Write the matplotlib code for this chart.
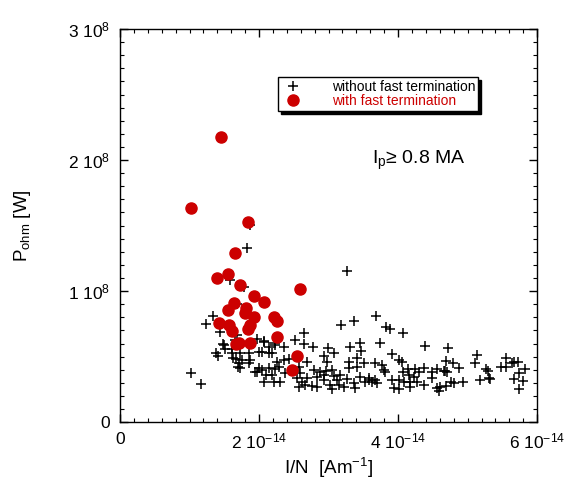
import matplotlib
matplotlib.use("Agg")
import matplotlib.pyplot as plt
import numpy as np
from matplotlib.ticker import FixedLocator, MultipleLocator, FixedFormatter

plt.rcParams['font.family'] = ['Liberation Sans', 'DejaVu Sans']
plt.rcParams['mathtext.fontset'] = 'custom'
plt.rcParams['mathtext.rm'] = 'Liberation Sans'
plt.rcParams['mathtext.it'] = 'Liberation Sans:italic'

# data: I/N in units of 1e-14 A/m, P_ohm in units of 1e8 W
fast_x = [1.460, 1.024, 1.844, 1.661, 1.556, 1.392, 1.723, 2.582, 1.924, 2.074,
          1.642, 1.556, 1.815, 1.791, 1.924, 2.212, 2.261, 1.421, 1.565, 1.867,
          1.604, 1.844, 2.261, 1.709, 1.877, 1.671, 2.543, 2.477]
fast_y = [2.178, 1.631, 1.525, 1.288, 1.130, 1.097, 1.048, 1.013, 0.962, 0.916,
          0.908, 0.853, 0.868, 0.834, 0.802, 0.802, 0.773, 0.758, 0.740, 0.740,
          0.695, 0.708, 0.651, 0.603, 0.605, 0.595, 0.506, 0.397]

slow_x = [1.877, 1.829, 1.589, 1.780, 3.258, 1.340, 1.244, 1.445, 1.478, 1.507,
          1.388, 1.407, 1.604, 1.614, 1.628, 1.675, 1.694, 1.028, 1.158, 1.686,
          1.686, 1.973, 2.068, 2.140, 2.236, 2.366, 2.524, 2.643, 1.719, 1.852,
          1.877, 1.852, 2.006, 2.045, 2.140, 2.189, 1.709, 1.733, 2.261, 2.356,
          2.428, 2.284, 2.236, 2.140, 2.045, 1.973, 2.093, 2.189, 2.068, 2.212,
          2.308, 2.380, 2.571, 2.596, 2.549, 2.571, 2.620, 3.186, 3.363, 2.653,
          2.779, 2.989, 3.075, 2.931, 3.315, 3.449, 3.473, 2.692, 2.980, 3.291,
          3.411, 3.506, 2.797, 2.884, 2.956, 3.052, 3.291, 3.411, 2.692, 2.836,
          2.931, 3.075, 3.171, 3.268, 3.459, 3.578, 2.668, 2.764, 2.836, 3.027,
          3.052, 3.147, 3.219, 3.363, 3.387, 3.531, 2.931, 3.124, 3.685, 3.833,
          3.890, 4.067, 3.747, 4.394, 3.915, 4.010, 4.059, 3.675, 3.771, 3.794,
          3.818, 4.067, 4.145, 4.250, 4.154, 4.225, 4.297, 4.369, 4.490, 4.562,
          4.657, 4.490, 3.578, 3.675, 3.699, 3.627, 3.915, 4.010, 4.082, 4.178,
          4.274, 3.938, 4.010, 4.178, 4.369, 4.562, 4.585, 4.714, 4.696, 4.792,
          4.873, 4.681, 4.706, 4.609, 4.696, 4.763, 4.801, 4.936, 5.137, 5.113,
          5.271, 5.296, 5.185, 5.304, 5.329, 5.482, 5.559, 5.554, 5.641, 5.674,
          5.721, 5.736, 5.832, 5.664, 5.799, 5.736, 1.493, 1.757, 1.949, 1.996,
          2.078, 2.226, 1.661]
slow_y = [1.504, 1.326, 1.084, 1.033, 1.153, 0.809, 0.746, 0.685, 0.593, 0.555,
          0.529, 0.504, 0.555, 0.524, 0.491, 0.479, 0.422, 0.376, 0.288, 0.664,
          0.901, 0.634, 0.618, 0.575, 0.588, 0.575, 0.626, 0.677, 0.524, 0.524,
          0.473, 0.453, 0.537, 0.537, 0.524, 0.524, 0.448, 0.410, 0.460, 0.473,
          0.479, 0.422, 0.402, 0.410, 0.397, 0.384, 0.359, 0.359, 0.308, 0.308,
          0.308, 0.372, 0.422, 0.372, 0.334, 0.269, 0.308, 0.740, 0.773, 0.593,
          0.570, 0.563, 0.524, 0.504, 0.570, 0.601, 0.544, 0.460, 0.460, 0.460,
          0.486, 0.448, 0.397, 0.384, 0.392, 0.397, 0.410, 0.422, 0.334, 0.346,
          0.359, 0.351, 0.359, 0.326, 0.346, 0.321, 0.282, 0.275, 0.265, 0.282,
          0.250, 0.282, 0.269, 0.295, 0.257, 0.308, 0.321, 0.321, 0.809, 0.723,
          0.708, 0.677, 0.601, 0.580, 0.519, 0.473, 0.456, 0.448, 0.433, 0.397,
          0.384, 0.384, 0.402, 0.402, 0.359, 0.346, 0.384, 0.410, 0.384, 0.402,
          0.392, 0.334, 0.334, 0.321, 0.295, 0.308, 0.321, 0.321, 0.308, 0.308,
          0.308, 0.257, 0.250, 0.265, 0.282, 0.257, 0.239, 0.567, 0.466, 0.448,
          0.410, 0.389, 0.384, 0.269, 0.275, 0.308, 0.300, 0.308, 0.511, 0.448,
          0.402, 0.392, 0.321, 0.334, 0.326, 0.422, 0.422, 0.491, 0.448, 0.460,
          0.460, 0.372, 0.402, 0.328, 0.313, 0.250, 0.588, 0.473, 0.384, 0.410,
          0.613, 0.601, 0.626]

x_ticks = [0, 2e-14, 4e-14, 6e-14]
x_labels = ['0', r'$\mathregular{2\ 10^{-14}}$', r'$\mathregular{4\ 10^{-14}}$',
            r'$\mathregular{6\ 10^{-14}}$']
y_ticks = [0, 1e8, 2e8, 3e8]
y_labels = ['0', r'$\mathregular{1\ 10^{8}}$', r'$\mathregular{2\ 10^{8}}$',
            r'$\mathregular{3\ 10^{8}}$']


def main():
    fig = plt.figure(figsize=(5.66, 4.92), dpi=100)
    ax = fig.add_axes([0.212, 0.142, 0.737, 0.799])

    sx = np.array(slow_x) * 1e-14
    sy = np.array(slow_y) * 1e8
    fx = np.array(fast_x) * 1e-14
    fy = np.array(fast_y) * 1e8

    ax.plot(sx, sy, '+', color='black', ms=6.5, mew=1.1,
            label='without fast termination')
    ax.plot(fx, fy, 'o', color='#cc0000', ms=8, mec='#cc0000',
            label='with fast termination')

    ax.set_xlim(0, 6e-14)
    ax.set_ylim(0, 3e8)
    ax.xaxis.set_major_locator(FixedLocator(x_ticks))
    ax.xaxis.set_major_formatter(FixedFormatter(x_labels))
    ax.yaxis.set_major_locator(FixedLocator(y_ticks))
    ax.yaxis.set_major_formatter(FixedFormatter(y_labels))
    ax.xaxis.set_minor_locator(MultipleLocator(0.2e-14))
    ax.yaxis.set_minor_locator(MultipleLocator(0.1e8))
    ax.tick_params(which='both', direction='in', top=True, right=True,
                   labelsize=12.5)
    ax.tick_params(which='major', length=6, width=1, pad=7)
    ax.tick_params(which='minor', length=3, width=0.8)
    for s in ax.spines.values():
        s.set_linewidth(1)

    ax.set_xlabel(r'I/N  [Am$\mathregular{^{-1}}$]', fontsize=13.5, labelpad=3)
    ax.set_ylabel(r'$\mathregular{P_{ohm}}$ [W]', fontsize=13.5, labelpad=25)

    ax.text(3.62e-14, 2.0e8, r'I$\mathregular{_p}$≥ 0.8 MA', fontsize=14,
            va='center', ha='left')

    leg = ax.legend(loc='upper left', bbox_to_anchor=(0.379, 0.877),
                    fontsize=10, frameon=True, fancybox=False,
                    shadow={'facecolor': 'black', 'edgecolor': 'black', 'alpha': 1},
                    edgecolor='black', framealpha=1, borderpad=0.2,
                    handlelength=1.75, handletextpad=1.9, labelspacing=0.0,
                    borderaxespad=0)
    leg.get_frame().set_linewidth(1)
    leg.get_texts()[1].set_color('#cc0000')

    fig.savefig('out.png', dpi=100)


if __name__ == '__main__':
    main()
